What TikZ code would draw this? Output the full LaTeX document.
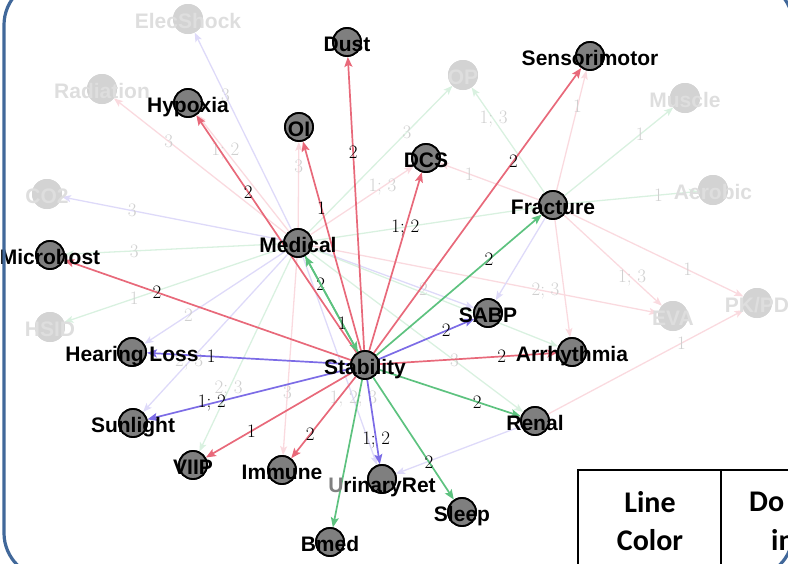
\documentclass[tikz,border=0pt]{standalone}
\usepackage{fontspec}
\newfontfamily\labfont{Liberation Sans}
\newfontfamily\tabfont{Carlito}
\usetikzlibrary{arrows.meta,calc}
\definecolor{ered}{HTML}{E8697A}
\definecolor{egreen}{HTML}{5DC27F}
\definecolor{eblue}{HTML}{7C6CE6}
\definecolor{fred}{HTML}{FADADF}
\definecolor{fgreen}{HTML}{D9F1E0}
\definecolor{fblue}{HTML}{DEDAF9}
\definecolor{framecol}{HTML}{41689A}
\definecolor{nodegray}{HTML}{7F7F7F}
\definecolor{fadegray}{HTML}{D3D3D3}
\definecolor{fadetext}{HTML}{DEDEDE}
\definecolor{fadelab}{HTML}{D0D0D0}
\tikzset{
  snode/.style={circle, fill=nodegray, draw=black, line width=1.8pt, minimum size=28pt, inner sep=0pt},
  fnode/.style={circle, fill=fadegray, minimum size=30pt, inner sep=0pt},
  ntext/.style={font=\labfont\bfseries\fontsize{21}{21}\selectfont, text=black, inner sep=0pt, text height=15pt, text depth=0pt, yshift=-2pt},
  ftext/.style={ntext, text=fadetext},
  sedge/.style={line width=1.7pt, -{Stealth[length=10pt,width=8pt,inset=2pt]}},
  fedge/.style={line width=1.3pt, -{Stealth[length=9pt,width=7pt,inset=2pt]}},
  elab/.style={font=\fontsize{19}{19}\selectfont, inner sep=0pt, text=black},
  flab/.style={elab, text=fadelab},
  tabtext/.style={font=\tabfont\bfseries\fontsize{30}{30}\selectfont, inner sep=0pt}
}
\newcommand\conn[5]{\draw[#3] (#1) -- (#2); \node[#4] at ($(#1)!0.66!(#2)$) {#5};}
\begin{document}
\begin{tikzpicture}[x=1pt,y=-1pt]
\useasboundingbox (0,0) rectangle (788,563);
\begin{scope}
\clip (0,0) rectangle (788,563);
% strong nodes
\node[snode] (stab) at (365,365) {};
\node[snode] (med) at (298,243) {};
\node[snode] (dust) at (347,42) {};
\node[snode] (hyp) at (188,103) {};
\node[snode] (oi) at (299,127) {};
\node[snode] (dcs) at (426,158) {};
\node[snode] (sens) at (590,56) {};
\node[snode] (frac) at (553,205) {};
\node[snode] (micro) at (50,255) {};
\node[snode] (sabp) at (488,313) {};
\node[snode] (arr) at (572,352) {};
\node[snode] (hear) at (132,352) {};
\node[snode] (sun) at (133,423) {};
\node[snode] (viip) at (193,465) {};
\node[snode] (imm) at (282,470) {};
\node[snode] (uri) at (382,479) {};
\node[snode] (sleep) at (462,512) {};
\node[snode] (bmed) at (330,542) {};
\node[snode] (renal) at (535,421) {};
% faint nodes
\node[fnode] (elec) at (188,19) {};
\node[fnode] (rad) at (102,89) {};
\node[fnode] (op) at (463,75) {};
\node[fnode] (musc) at (685,98) {};
\node[fnode] (aer) at (713,190) {};
\node[fnode] (co2) at (47,194) {};
\node[fnode] (hsid) at (50,327) {};
\node[fnode] (eva) at (673,316) {};
\node[fnode] (pkpd) at (757,303) {};
% faint edges
\conn{med}{elec}{fedge,fblue}{flab}{3}
\conn{med}{rad}{fedge,fred}{flab}{3}
\conn{med}{hyp}{fedge,fred}{flab}{1; 2}
\conn{med}{co2}{fedge,fblue}{flab}{3}
\conn{med}{micro}{fedge,fgreen}{flab}{3}
\conn{med}{hsid}{fedge,fgreen}{flab}{1}
\conn{med}{hear}{fedge,fblue}{flab}{2}
\conn{med}{sun}{fedge,fblue}{flab}{2; 3}
\conn{med}{viip}{fedge,fgreen}{flab}{2; 3}
\conn{med}{imm}{fedge,fred}{flab}{3}
\conn{med}{uri}{fedge,fblue}{flab}{1; 2; 3}
\conn{med}{oi}{fedge,fred}{flab}{3}
\conn{med}{op}{fedge,fgreen}{flab}{3}
\conn{med}{dcs}{fedge,fred}{flab}{1; 3}
\conn{med}{frac}{fedge,fgreen}{flab}{}
\conn{med}{sabp}{fedge,fblue}{flab}{2}
\conn{med}{eva}{fedge,fred}{flab}{2; 3}
\conn{med}{arr}{fedge,fgreen}{flab}{}
\conn{med}{renal}{fedge,fgreen}{flab}{3}
\conn{frac}{op}{fedge,fgreen}{flab}{1; 3}
\conn{frac}{sens}{fedge,fred}{flab}{1}
\conn{frac}{musc}{fedge,fgreen}{flab}{1}
\conn{frac}{aer}{fedge,fgreen}{flab}{1}
\conn{frac}{dcs}{fedge,fred}{flab}{1}
\conn{frac}{eva}{fedge,fred}{flab}{1; 3}
\conn{frac}{pkpd}{fedge,fred}{flab}{1}
\conn{frac}{arr}{fedge,fred}{flab}{}
\conn{frac}{sabp}{fedge,fblue}{flab}{}
\conn{renal}{pkpd}{fedge,fred}{flab}{1}
\conn{renal}{uri}{fedge,fblue}{flab}{}
% strong edges
\conn{stab}{dust}{sedge,ered}{elab}{2}
\conn{stab}{oi}{sedge,ered}{elab}{1}
\conn{stab}{dcs}{sedge,ered}{elab}{1; 2}
\conn{stab}{sens}{sedge,ered}{elab}{2}
\conn{stab}{hyp}{sedge,ered}{elab}{2}
\conn{stab}{micro}{sedge,ered}{elab}{2}
\conn{stab}{arr}{sedge,ered}{elab}{2}
\conn{stab}{viip}{sedge,ered}{elab}{1}
\conn{stab}{imm}{sedge,ered}{elab}{2}
\conn{stab}{med}{sedge,egreen}{elab}{2}
\conn{med}{stab}{sedge,egreen}{elab}{1}
\conn{stab}{frac}{sedge,egreen}{elab}{2}
\conn{stab}{renal}{sedge,egreen}{elab}{2}
\conn{stab}{sleep}{sedge,egreen}{elab}{2}
\conn{stab}{bmed}{sedge,egreen}{elab}{}
\conn{stab}{sabp}{sedge,eblue}{elab}{2}
\conn{stab}{hear}{sedge,eblue}{elab}{1}
\conn{stab}{sun}{sedge,eblue}{elab}{1; 2}
\conn{stab}{uri}{sedge,eblue}{elab}{1; 2}
% redraw circles above edges
\foreach \n in {stab,med,dust,hyp,oi,dcs,sens,frac,micro,sabp,arr,hear,sun,viip,imm,uri,sleep,bmed,renal}
  {\fill[nodegray,draw=black,line width=1.8pt] (\n.center) circle (14pt);}
\foreach \n in {elec,rad,op,musc,aer,co2,hsid,eva,pkpd}
  {\fill[fadegray] (\n.center) circle (15pt);}
% faint labels
\node[ftext] (elec-t) at (elec) {ElecShock};
\node[ftext] (rad-t) at (rad) {Radiation};
\node[ftext] (op-t) at (op) {OP};
\node[ftext] (musc-t) at (musc) {Muscle};
\node[ftext] (aer-t) at (aer) {Aerobic};
\node[ftext] (co2-t) at (co2) {CO2};
\node[ftext] (hsid-t) at (hsid) {HSID};
\node[ftext] (eva-t) at (eva) {EVA};
\node[ftext] (pkpd-t) at (pkpd) {PK/PD};
% strong labels
\node[ntext] (stab-t) at (stab) {Stability};
\node[ntext] (med-t) at (med) {Medical};
\node[ntext] (dust-t) at (dust) {Dust};
\node[ntext] (hyp-t) at (hyp) {Hypoxia};
\node[ntext] (oi-t) at (oi) {OI};
\node[ntext] (dcs-t) at (dcs) {DCS};
\node[ntext] (sens-t) at (sens) {Sensorimotor};
\node[ntext] (frac-t) at (frac) {Fracture};
\node[ntext] (micro-t) at (micro) {Microhost};
\node[ntext] (sabp-t) at (sabp) {SABP};
\node[ntext] (arr-t) at (arr) {Arrhythmia};
\node[ntext] (hear-t) at (hear) {Hearing Loss};
\node[ntext] (sun-t) at (sun) {Sunlight};
\node[ntext] (viip-t) at (viip) {VIIP};
\node[ntext] (imm-t) at (imm) {Immune};
\node[ntext,yshift=-4pt] (uri-t) at (uri) {{\color{gray}U}rinaryRet};
\node[ntext] (sleep-t) at (sleep) {Sleep};
\node[ntext] (bmed-t) at (bmed) {Bmed};
\node[ntext] (renal-t) at (renal) {Renal};
% table
\draw[line width=1.8pt] (578,470) rectangle (830,620);
\draw[line width=1.8pt] (721,470) -- (721,620);
\node[tabtext] (t1) at (650,502) {Line};
\node[tabtext] (t2) at (650,540) {Color};
\node[tabtext,anchor=west] (t3) at (749,502) {Do};
\node[tabtext,anchor=west] (t4) at (771,540) {in};
% frame
\draw[framecol, line width=3.2pt, rounded corners=45pt] (4,-20) rectangle (793,578);
\end{scope}
\end{tikzpicture}
\end{document}
